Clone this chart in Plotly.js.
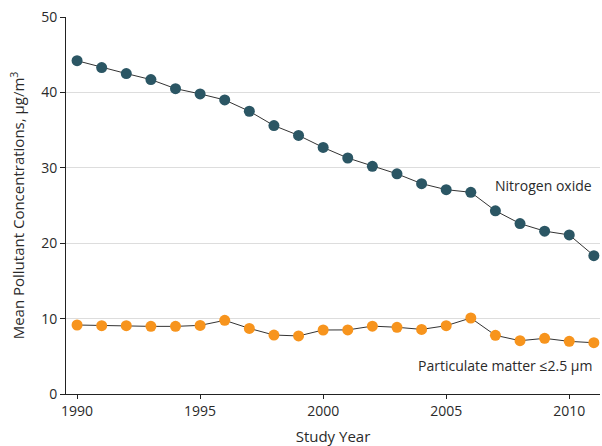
<!DOCTYPE html>
<html>
<head>
<meta charset="utf-8">
<script src="https://cdn.plot.ly/plotly-3.0.1.min.js"></script>
<style>html,body{margin:0;padding:0;background:#fff;}#chart{width:602px;height:446px;}</style>
</head>
<body>
<div id="chart"></div>
<script>
const years = [1990,1991,1992,1993,1994,1995,1996,1997,1998,1999,2000,2001,2002,2003,2004,2005,2006,2007,2008,2009,2010,2011];
const nitrogenOxide = [44.2,43.3,42.5,41.7,40.5,39.8,39.0,37.5,35.6,34.3,32.7,31.3,30.2,29.2,27.9,27.1,26.75,24.3,22.6,21.6,21.1,18.35];
const particulateMatter = [9.15,9.06,9.06,8.97,8.97,9.1,9.77,8.7,7.82,7.7,8.49,8.5,9.0,8.85,8.57,9.06,10.08,7.78,7.07,7.38,6.98,6.8];
const xTicks = [1990,1995,2000,2005,2010];
const yTicks = [0,10,20,30,40,50];
const seriesLabels = ["Nitrogen oxide","Particulate matter ≤2.5 μm"];

const font = "Open Sans, Noto Sans, sans-serif";
const textColor = '#2a2a2a';
const traces = [
  {x: years, y: nitrogenOxide, type: 'scatter', mode: 'lines+markers', name: seriesLabels[0],
   line: {color: '#333333', width: 1}, marker: {color: '#2b5664', size: 11}, cliponaxis: false},
  {x: years, y: particulateMatter, type: 'scatter', mode: 'lines+markers', name: seriesLabels[1],
   line: {color: '#333333', width: 1}, marker: {color: '#f7941d', size: 11}, cliponaxis: false}
];
const layout = {
  width: 602, height: 446,
  margin: {l: 66, r: 2, t: 17, b: 52},
  paper_bgcolor: '#fff', plot_bgcolor: '#fff',
  showlegend: false,
  font: {family: font, size: 14, color: textColor},
  xaxis: {
    range: [1989.55, 2011.25], tickvals: xTicks, ticktext: xTicks.map(String),
    showgrid: false, zeroline: false, showline: true, linecolor: '#222', linewidth: 1,
    ticks: 'outside', ticklen: 4, tickcolor: '#222',
    tickfont: {family: font, size: 14, color: textColor},
    title: {text: 'Study Year', font: {family: font, size: 15, color: textColor}, standoff: 12}
  },
  yaxis: {
    range: [0, 50], tickvals: yTicks, ticktext: yTicks.map(String),
    showgrid: true, gridcolor: '#dddddd', gridwidth: 1, zeroline: false,
    showline: true, linecolor: '#222', linewidth: 1,
    ticks: 'outside', ticklen: 5, tickcolor: '#222',
    tickfont: {family: font, size: 14, color: textColor},
    title: {text: 'Mean Pollutant Concentrations, μg/m<sup>3</sup>', font: {family: font, size: 15, color: textColor}, standoff: 12}
  },
  annotations: [
    {x: 2011.0, y: 27.6, xref: 'x', yref: 'y', text: seriesLabels[0], showarrow: false,
     xanchor: 'right', yanchor: 'middle', font: {family: font, size: 14, color: textColor}},
    {x: 2011.0, y: 3.75, xref: 'x', yref: 'y', text: seriesLabels[1], showarrow: false,
     xanchor: 'right', yanchor: 'middle', font: {family: font, size: 14, color: textColor}}
  ]
};
Plotly.newPlot('chart', traces, layout, {displayModeBar: false, staticPlot: true});
</script>
</body>
</html>
